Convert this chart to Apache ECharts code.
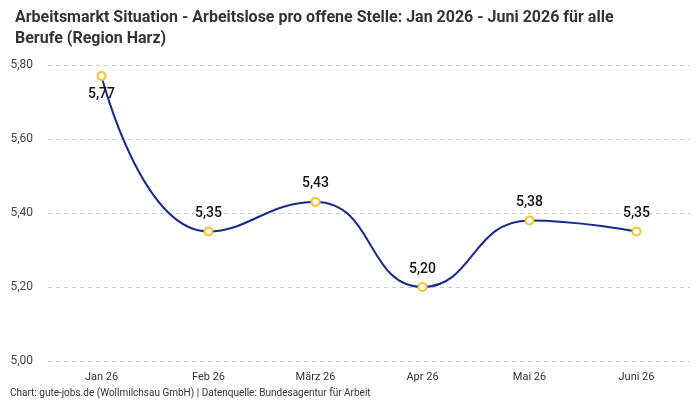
<!DOCTYPE html>
<html>
<head>
<meta charset="utf-8">
<script src="https://cdn.jsdelivr.net/npm/echarts@6/dist/echarts.min.js"></script>
<style>
  html, body { margin: 0; padding: 0; background: #fff; }
  #chart { width: 700px; height: 400px; }
</style>
</head>
<body>
<div id="chart"></div>
<script>
// Monate und Werte (Arbeitslose pro offene Stelle)
const months = ["Jan 26", "Feb 26", "März 26", "Apr 26", "Mai 26", "Juni 26"];
const values = [5.77, 5.35, 5.43, 5.20, 5.38, 5.35];

const fmt = (v) => v.toFixed(2).replace(".", ",");

const chart = echarts.init(document.getElementById("chart"));
const option = {
  backgroundColor: "#fff",
  title: {
    text: "Arbeitsmarkt Situation - Arbeitslose pro offene Stelle: Jan 2026 - Juni 2026 für alle\nBerufe (Region Harz)",
    left: 10,
    top: 2,
    textStyle: {
      fontFamily: "Roboto, sans-serif",
      fontSize: 16,
      fontWeight: "bold",
      color: "#333",
      lineHeight: 21,
    },
  },
  graphic: [
    {
      type: "text",
      left: 10,
      top: 388,
      style: {
        text: "Chart: gute-jobs.de (Wollmilchsau GmbH) | Datenquelle: Bundesagentur für Arbeit",
        fontFamily: "Roboto, sans-serif",
        fontSize: 10,
        fill: "#333",
      },
    },
  ],
  grid: {
    left: 48,
    right: 10,
    top: 65,
    bottom: 39,
  },
  xAxis: {
    type: "category",
    data: months,
    boundaryGap: true,
    axisLine: { show: false },
    axisTick: { show: false },
    axisLabel: {
      margin: 11,
      fontFamily: "Roboto, sans-serif",
      fontSize: 11,
      color: "#333",
    },
  },
  yAxis: {
    type: "value",
    min: 5.0,
    max: 5.8,
    interval: 0.2,
    axisLabel: {
      margin: 15,
      fontFamily: "Roboto, sans-serif",
      fontSize: 12,
      color: "#444",
      formatter: (v) => fmt(v),
    },
    splitLine: {
      lineStyle: { color: "#cccccc", type: [4, 4] },
    },
  },
  series: [
    {
      type: "line",
      smooth: 0.5,
      data: values.map((v, i) => ({
        value: v,
        label: { position: i === 0 ? "bottom" : "top" },
      })),
      symbol: "circle",
      symbolSize: 8,
      itemStyle: {
        color: "#fff",
        borderColor: "#f7c325",
        borderWidth: 2,
      },
      lineStyle: { color: "#1a2a8c", width: 2 },
      label: {
        show: true,
        distance: 6,
        fontFamily: "Roboto, sans-serif",
        fontSize: 14,
        fontWeight: 500,
        color: "#111",
        formatter: (p) => fmt(p.value),
      },
      z: 3,
    },
  ],
};
chart.setOption(option);
</script>
</body>
</html>
